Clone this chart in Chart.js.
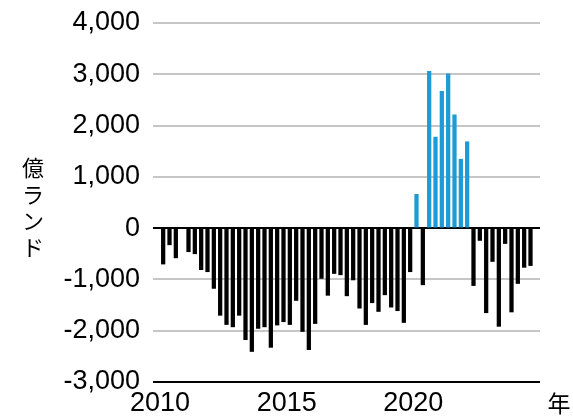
<!DOCTYPE html>
<html>
<head>
<meta charset="utf-8">
<script src="https://cdn.jsdelivr.net/npm/chart.js@4/dist/chart.umd.min.js"></script>
<style>
  html, body { margin: 0; padding: 0; background: #fff; }
  #wrap { width: 573px; height: 418px; }
</style>
</head>
<body>
<div id="wrap"><canvas id="c" width="573" height="418"></canvas></div>
<script>
// Quarterly net flows (億ランド), 2010 Q1 onward; null = no figure published
const startYear = 2010;
const endYear = 2025;
const netFlows = [
  -700, -325, -580, null,
  -460, -500, -810, -850,
  -1175, -1700, -1880, -1925,
  -1700, -2175, -2405, -1955,
  -1925, -2325, -1890, -1825,
  -1880, -1410, -2015, -2370,
  -1860, -980, -1310, -885,
  -910, -1320, -1010, -1560,
  -1880, -1455, -1625, -1300,
  -1540, -1610, -1840, -850,
  660, -1105, 3060, 1775,
  2670, 3010, 2210, 1345,
  1685, -1120, -240, -1650,
  -650, -1915, -300, -1635,
  -1080, -765, -730, null
];
const yTicks = [-3000, -2000, -1000, 0, 1000, 2000, 3000, 4000];
const xTickYears = [2010, 2015, 2020];
const yUnitChars = ['億', 'ラ', 'ン', 'ド'];
const xUnit = '年';

const points = netFlows.map((v, i) => ({ x: startYear + (i + 0.5) / 4, y: v }));
const barColors = netFlows.map(v => (v !== null && v > 0) ? '#1e9bd7' : '#000000');

const unitLabels = {
  id: 'unitLabels',
  afterDraw(chart) {
    const ctx = chart.ctx;
    const area = chart.chartArea;
    ctx.save();
    ctx.fillStyle = '#000';
    ctx.textAlign = 'center';
    ctx.textBaseline = 'middle';
    ctx.font = '22px "Noto Sans CJK JP"';
    const step = 26.5;
    const midY = 207.5;
    yUnitChars.forEach((ch, k) => {
      ctx.fillText(ch, 33, midY + (k - (yUnitChars.length - 1) / 2) * step);
    });
    ctx.font = '23px "Noto Sans CJK JP"';
    ctx.fillText(xUnit, area.right + 19, area.bottom + 21);
    ctx.restore();
  }
};

new Chart(document.getElementById('c'), {
  type: 'bar',
  data: {
    datasets: [{
      data: points,
      backgroundColor: barColors,
      barThickness: 3.6,
      borderWidth: 0
    }]
  },
  options: {
    responsive: false,
    animation: false,
    events: [],
    layout: { padding: { top: 23, right: 33, left: 0, bottom: 0 } },
    plugins: { legend: { display: false }, tooltip: { enabled: false } },
    scales: {
      x: {
        type: 'linear',
        min: startYear,
        max: endYear,
        offset: false,
        afterFit(scale) {
          scale.height = 36;
          scale.paddingLeft = 0;
          scale.paddingRight = 0;
        },
        afterBuildTicks(scale) { scale.ticks = xTickYears.map(v => ({ value: v })); },
        grid: { display: false, drawTicks: false, offset: false },
        border: { display: false },
        ticks: {
          color: '#000',
          font: { family: '"Liberation Sans", Arial, sans-serif', size: 27 },
          padding: 5,
          maxRotation: 0,
          autoSkip: false,
          callback: v => String(v)
        }
      },
      y: {
        min: -3000,
        max: 4000,
        afterFit(scale) {
          scale.width = 160;
          scale.paddingTop = 0;
          scale.paddingBottom = 0;
        },
        afterBuildTicks(scale) { scale.ticks = yTicks.map(v => ({ value: v })); },
        border: { display: false },
        grid: {
          color: c => (c.tick && (c.tick.value === 0 || c.tick.value === -3000)) ? '#000000' : '#c6c6c6',
          lineWidth: 2,
          tickLength: 7
        },
        ticks: {
          color: '#000',
          font: { family: '"Liberation Sans", Arial, sans-serif', size: 27 },
          padding: 13,
          callback: v => v.toLocaleString('en-US')
        }
      }
    }
  },
  plugins: [unitLabels]
});
</script>
</body>
</html>
